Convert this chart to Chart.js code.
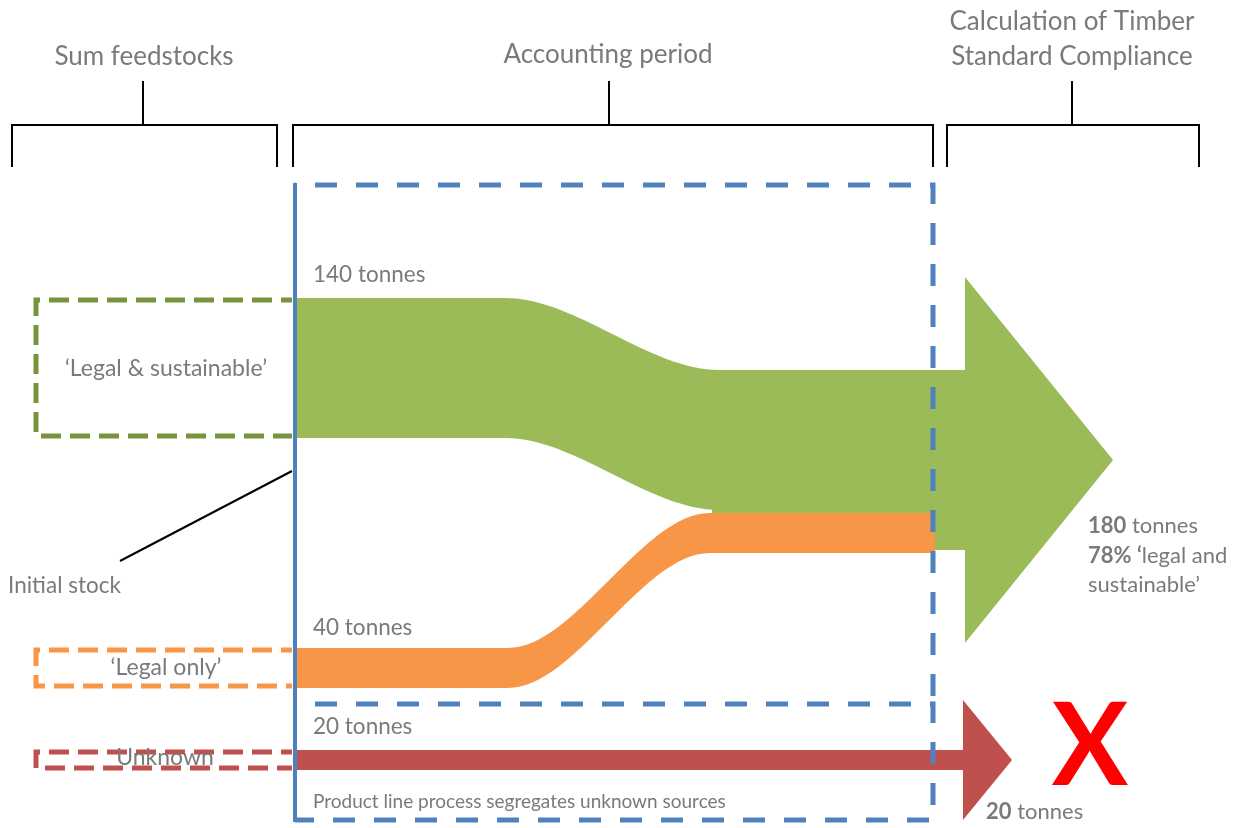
<!DOCTYPE html>
<html>
<head>
<meta charset="utf-8">
<script src="https://cdn.jsdelivr.net/npm/chart.js@4"></script>
<style>
  html, body { margin: 0; padding: 0; background: #fff; }
</style>
</head>
<body>
<canvas id="flowChart" width="1239" height="828"></canvas>
<script>
// Timber standard mass balance
const sources = ['\u2018Legal & sustainable\u2019', '\u2018Legal only\u2019', 'Unknown'];
const tonnes = [140, 40, 20];
const headings = [['Sum feedstocks'], ['Accounting period'], ['Calculation of Timber', 'Standard Compliance']];
const compliantTonnes = tonnes[0] + tonnes[1];
const compliantShare = Math.round(tonnes[0] / compliantTonnes * 100);
const rejectedTonnes = tonnes[2];

// colours
const bandColors = ['#9bbb59', '#f79646', '#c0504d'];
const boxColors = ['#77933c', '#f79646', '#c0504d'];
const blue = '#4f81bd';
const grey = '#7a7a7a';
const FONT = 'Lato, "Open Sans", sans-serif';

// layout (chart units, y counted from the top; 1 tonne = 1 unit of height)
const xBox = 36, xStart = 295, xPeriodEnd = 933;
const laneIn = [298, 648, 750];      // top of each band when it enters
const laneOut = [370, 513, 750];     // top of each band when it leaves
const bendFrom = [505, 508, null];
const bendTo = [720, 710, null];

function band(i) {
  const xs = bendFrom[i] === null ? [xStart, 965] : [xStart, bendFrom[i], bendTo[i], i === 0 ? 940 : 935];
  const edge = off => xs.map((x, k) => ({
    x: x,
    y: (k < xs.length / 2 ? laneIn[i] : laneOut[i]) + off
  }));
  const common = {
    borderWidth: 0, pointRadius: 0, cubicInterpolationMode: 'monotone',
    borderColor: bandColors[i], backgroundColor: bandColors[i]
  };
  return [
    Object.assign({ label: sources[i] + ' top', data: edge(0), fill: false }, common),
    Object.assign({ label: sources[i], data: edge(tonnes[i]), fill: '-1' }, common)
  ];
}

const diagram = {
  id: 'diagram',
  beforeDatasetsDraw(chart) {
    const ctx = chart.ctx, sx = chart.scales.x, sy = chart.scales.y;
    const px = v => sx.getPixelForValue(v), py = v => sy.getPixelForValue(v);
    function arrow(x0, headX, tipX, top, thick, headHalf, color) {
      const mid = top + thick / 2;
      ctx.save();
      ctx.fillStyle = color;
      ctx.beginPath();
      ctx.moveTo(px(x0), py(top));
      ctx.lineTo(px(headX), py(top));
      ctx.lineTo(px(headX), py(mid - headHalf));
      ctx.lineTo(px(tipX), py(mid));
      ctx.lineTo(px(headX), py(mid + headHalf));
      ctx.lineTo(px(headX), py(top + thick));
      ctx.lineTo(px(x0), py(top + thick));
      ctx.closePath();
      ctx.fill();
      ctx.restore();
    }
    arrow(712, 965, 1113, laneOut[0], compliantTonnes, 183, bandColors[0]);
    arrow(900, 963, 1012, laneOut[2], rejectedTonnes, 60, bandColors[2]);
  },
  afterDatasetsDraw(chart) {
    const ctx = chart.ctx, sx = chart.scales.x, sy = chart.scales.y;
    const px = v => sx.getPixelForValue(v), py = v => sy.getPixelForValue(v);
    ctx.save();

    // accounting period boxes
    ctx.strokeStyle = blue;
    ctx.lineWidth = 5;
    ctx.setLineDash([22, 19]);
    ctx.lineDashOffset = -20;
    ctx.beginPath();
    ctx.moveTo(px(xStart), py(185)); ctx.lineTo(px(xPeriodEnd), py(185)); ctx.lineTo(px(xPeriodEnd), py(704));
    ctx.moveTo(px(xStart), py(704)); ctx.lineTo(px(xPeriodEnd), py(704)); ctx.lineTo(px(xPeriodEnd), py(820));
    ctx.lineTo(px(xStart), py(820));
    ctx.stroke();
    ctx.setLineDash([]);
    ctx.lineWidth = 4;
    ctx.beginPath();
    ctx.moveTo(px(xStart), py(183)); ctx.lineTo(px(xStart), py(822));
    ctx.stroke();

    // feedstock boxes
    ctx.lineWidth = 5;
    ctx.setLineDash([20, 9]);
    sources.forEach((s, i) => {
      const top = laneIn[i] + 2, bot = laneIn[i] + tonnes[i] - 2;
      ctx.strokeStyle = boxColors[i];
      ctx.beginPath();
      ctx.moveTo(px(xStart - 3), py(top)); ctx.lineTo(px(xBox), py(top));
      ctx.lineTo(px(xBox), py(bot)); ctx.lineTo(px(xStart - 3), py(bot));
      ctx.stroke();
    });
    ctx.setLineDash([]);

    // brackets
    ctx.strokeStyle = '#000';
    ctx.lineWidth = 2;
    [[12, 277, 143], [293, 933, 609], [947, 1199, 1072]].forEach(b => {
      ctx.beginPath();
      ctx.moveTo(px(b[0]), py(167)); ctx.lineTo(px(b[0]), py(125));
      ctx.lineTo(px(b[1]), py(125)); ctx.lineTo(px(b[1]), py(167));
      ctx.moveTo(px(b[2]), py(125)); ctx.lineTo(px(b[2]), py(81));
      ctx.stroke();
    });
    // initial stock pointer
    ctx.beginPath();
    ctx.moveTo(px(120), py(561)); ctx.lineTo(px(292), py(471));
    ctx.stroke();

    // texts
    ctx.fillStyle = grey;
    ctx.textBaseline = 'middle';
    ctx.textAlign = 'center';
    ctx.font = '26px ' + FONT;
    ctx.fillText(headings[0][0], px(144), py(57));
    ctx.fillText(headings[1][0], px(608), py(55));
    ctx.fillText(headings[2][0], px(1072), py(22));
    ctx.fillText(headings[2][1], px(1072), py(57));

    ctx.font = '23px ' + FONT;
    ctx.fillText(sources[0], px(166), py(369));
    ctx.fillText(sources[1], px(166), py(668));
    ctx.fillText(sources[2], px(165), py(758));

    ctx.textAlign = 'left';
    ctx.font = '22.5px ' + FONT;
    ctx.fillText('Initial stock', px(8), py(586));
    ctx.fillText(tonnes[0] + ' tonnes', px(313), py(275));
    ctx.fillText(tonnes[1] + ' tonnes', px(313), py(628));
    ctx.fillText(tonnes[2] + ' tonnes', px(313), py(727));
    ctx.font = '19px ' + FONT;
    ctx.fillText('Product line process segregates unknown sources', px(313), py(802));

    function mixed(boldPart, rest, x, y) {
      ctx.font = 'bold 22px ' + FONT;
      ctx.fillText(boldPart, px(x), py(y));
      const w = ctx.measureText(boldPart).width;
      ctx.font = '22px ' + FONT;
      ctx.fillText(rest, px(x) + w, py(y));
    }
    mixed(String(compliantTonnes), ' tonnes', 1088, 526);
    mixed(compliantShare + '% \u2018', 'legal and', 1088, 556);
    ctx.font = '22px ' + FONT;
    ctx.fillText('sustainable\u2019', px(1088), py(585));
    mixed(String(rejectedTonnes), ' tonnes', 986, 812);

    // rejection mark
    ctx.fillStyle = '#ff0000';
    ctx.textAlign = 'center';
    ctx.font = 'bold 114px ' + FONT;
    ctx.fillText('X', px(1090), py(748));
    ctx.restore();
  }
};

new Chart(document.getElementById('flowChart'), {
  type: 'line',
  data: { datasets: [].concat(band(0), band(1), band(2)) },
  options: {
    responsive: false,
    animation: false,
    layout: { padding: 0 },
    scales: {
      x: { type: 'linear', min: 0, max: 1239, display: false },
      y: { type: 'linear', min: 0, max: 828, reverse: true, display: false }
    },
    plugins: {
      legend: { display: false },
      tooltip: { enabled: false },
      filler: { propagate: false }
    }
  },
  plugins: [diagram]
});
</script>
</body>
</html>
